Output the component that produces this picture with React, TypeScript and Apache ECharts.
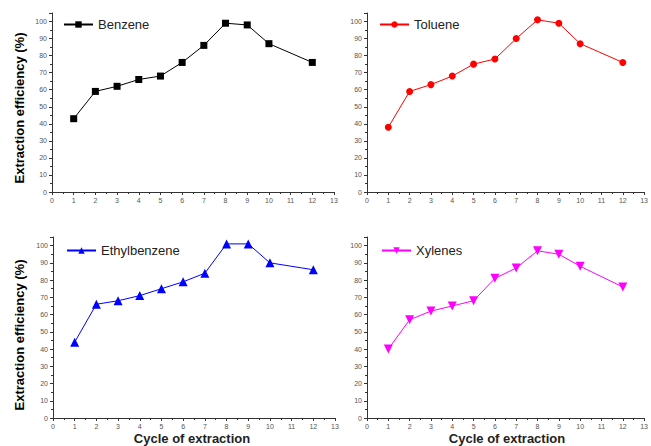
import React, { useEffect, useRef } from "react";
import * as echarts from "echarts";

const cycles = [1, 2, 3, 4, 5, 6, 7, 8, 9, 10, 12];
const benzene = [43, 59, 62, 66, 68, 76, 86, 99, 98, 87, 76];
const toluene = [38, 59, 63, 68, 75, 78, 90, 101, 99, 87, 76];
const ethylbenzene = [44, 66, 68, 71, 75, 79, 84, 101, 101, 90, 86];
const xylenes = [40, 57, 62, 65, 68, 81, 87, 97, 95, 88, 76];

const seriesNames = ["Benzene", "Toluene", "Ethylbenzene", "Xylenes"];
const seriesColors = ["#000000", "#ff0000", "#0000ff", "#ff00ff"];
const seriesSymbols = ["rect", "circle", "triangle", "path://M0,0 L10,0 L5,9 Z"];
const seriesData = [benzene, toluene, ethylbenzene, xylenes];

const yTitle = "Extraction efficiency (%)";
const xTitle = "Cycle of extraction";

const grids = [
  { left: 52, top: 13, width: 282, height: 179 },
  { left: 367, top: 13, width: 282, height: 179 },
  { left: 53, top: 237, width: 282, height: 181 },
  { left: 367, top: 237, width: 282, height: 181 },
];
const legendPos = [
  { left: 58, top: 13 },
  { left: 374, top: 13 },
  { left: 61, top: 239 },
  { left: 376, top: 239 },
];

export default function App() {
  const ref = useRef<HTMLDivElement>(null);
  useEffect(() => {
    if (!ref.current) return;
    const chart = echarts.init(ref.current, null, { renderer: "svg" });
    const font = "Liberation Sans, Arial, sans-serif";
    const axisLine = { lineStyle: { color: "#333", width: 1 } };
    const option: any = {
      animation: false,
      backgroundColor: "#fff",
      grid: grids.map((g) => ({ ...g, containLabel: false })),
      legend: seriesNames.map((n, i) => ({
        data: [n],
        ...legendPos[i],
        itemWidth: 29,
        itemHeight: 8,
        textStyle: { fontFamily: font, fontSize: 13, color: "#222" },
      })),
      xAxis: grids.map((_, i) => ({
        type: "value",
        gridIndex: i,
        min: 0,
        max: 13,
        interval: 1,
        axisLine,
        axisTick: { show: true, inside: false, length: 3, lineStyle: { color: "#333" } },
        minorTick: { show: true, splitNumber: 2, length: 2, lineStyle: { color: "#333" } },
        splitLine: { show: false },
        axisLabel: { fontFamily: font, fontSize: 7, color: "#555", margin: 5 },
      })),
      yAxis: grids.map((_, i) => ({
        type: "value",
        gridIndex: i,
        min: 0,
        max: 105,
        interval: 10,
        axisLine: { show: true, ...axisLine },
        axisTick: { show: true, inside: false, length: 3, lineStyle: { color: "#333" } },
        minorTick: { show: true, splitNumber: 2, length: 2, lineStyle: { color: "#333" } },
        splitLine: { show: false },
        axisLabel: {
          fontFamily: font,
          fontSize: 7,
          color: "#555",
          margin: 5,
          showMaxLabel: false,
        },
      })),
      series: seriesNames.map((n, i) => ({
        name: n,
        type: "line",
        xAxisIndex: i,
        yAxisIndex: i,
        data: cycles.map((c, j) => [c, seriesData[i][j]]),
        symbol: seriesSymbols[i],
        symbolSize: i === 2 || i === 3 ? 9 : 7,
        itemStyle: { color: seriesColors[i] },
        lineStyle: { color: seriesColors[i], width: 1 },
      })),
      graphic: [
        { type: "text", x: 19, y: 108, rotation: Math.PI / 2, style: { text: yTitle, font: `bold 13px ${font}`, fill: "#000", textAlign: "center", textVerticalAlign: "middle" } },
        { type: "text", x: 19, y: 335, rotation: Math.PI / 2, style: { text: yTitle, font: `bold 13px ${font}`, fill: "#000", textAlign: "center", textVerticalAlign: "middle" } },
        { type: "text", x: 192, y: 438, style: { text: xTitle, font: `bold 13px ${font}`, fill: "#222", textAlign: "center", textVerticalAlign: "middle" } },
        { type: "text", x: 507, y: 438, style: { text: xTitle, font: `bold 13px ${font}`, fill: "#222", textAlign: "center", textVerticalAlign: "middle" } },
      ],
    };
    chart.setOption(option);
    return () => chart.dispose();
  }, []);
  return (
    <div
      ref={ref}
      style={{ position: "fixed", left: 0, top: 0, width: 651, height: 446 }}
    />
  );
}
